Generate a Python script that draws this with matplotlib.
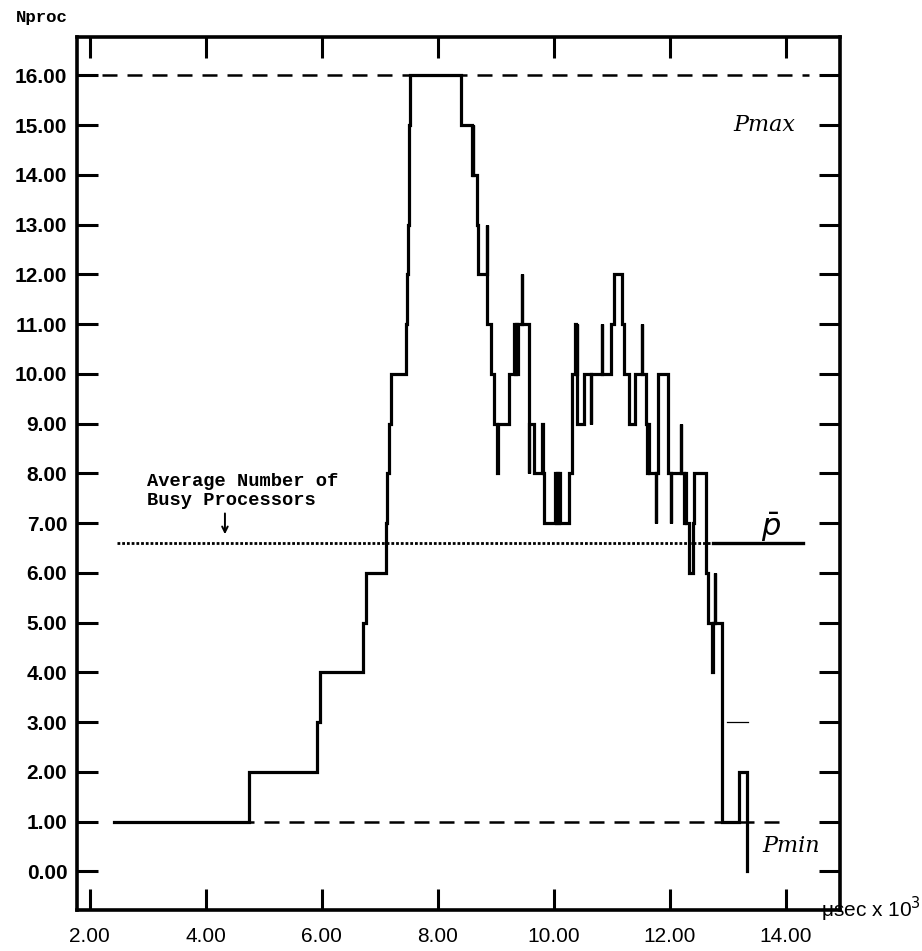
import numpy as np
import matplotlib.pyplot as plt

# processor count changes: time (usec x 10^3) where the count switches, and the new count
t_switch = [2.42, 4.74, 5.91, 5.96, 6.71, 6.76, 7.10, 7.13, 7.16, 7.20,
            7.45, 7.47, 7.49, 7.50, 7.51, 7.52, 8.40, 8.58, 8.60, 8.61,
            8.68, 8.70, 8.84, 8.845, 8.92, 8.96, 9.02, 9.03, 9.035, 9.045,
            9.23, 9.32, 9.33, 9.35, 9.36, 9.38, 9.45, 9.455, 9.57, 9.575,
            9.66, 9.80, 9.805, 9.83, 10.02, 10.03, 10.06, 10.07, 10.09, 10.10,
            10.26, 10.31, 10.37, 10.38, 10.39, 10.40, 10.52, 10.64, 10.645, 10.83,
            10.835, 10.99, 11.03, 11.17, 11.20, 11.30, 11.39, 11.51, 11.515, 11.59,
            11.61, 11.62, 11.64, 11.76, 11.765, 11.80, 11.96, 11.975, 12.02, 12.025,
            12.19, 12.195, 12.25, 12.26, 12.28, 12.32, 12.40, 12.42, 12.62, 12.65,
            12.73, 12.735, 12.78, 12.785, 12.90, 13.19, 13.33]
n_busy = [1, 2, 3, 4, 5, 6, 7, 8, 9, 10,
          11, 12, 13, 14, 15, 16, 15, 14, 15, 14,
          13, 12, 13, 11, 10, 9, 8, 9, 8, 9,
          10, 11, 10, 11, 10, 11, 12, 11, 8, 9,
          8, 9, 8, 7, 8, 7, 8, 7, 8, 7,
          8, 10, 11, 10, 11, 9, 10, 9, 10, 11,
          10, 11, 12, 11, 10, 9, 10, 11, 10, 9,
          8, 9, 8, 7, 8, 10, 9, 8, 7, 8,
          9, 8, 7, 8, 7, 6, 7, 8, 6, 5,
          4, 5, 6, 5, 1, 2, 0]

p_max = 16.0
p_min = 1.0
p_avg = 6.6

x_ticks = [2, 4, 6, 8, 10, 12, 14]
y_ticks = list(range(0, 17))

fig = plt.figure(figsize=(9.22, 9.51), dpi=100)
ax = fig.add_axes([0.0835, 0.043, 0.8275, 0.918])

# reference lines
ax.plot([1.78, 14.4], [p_max, p_max], color='black', lw=1.8, ls=(0, (6, 4)))
ax.plot([2.42, 13.9], [p_min, p_min], color='black', lw=1.8, ls=(0, (6, 4)))
ax.plot([2.47, 12.75], [p_avg, p_avg], color='black', lw=2.0, ls=(0, (1, 0.7)))
ax.plot([12.75, 14.3], [p_avg, p_avg], color='black', lw=2.4)

# busy processors step curve
ax.plot(t_switch, n_busy, drawstyle='steps-post', color='black', lw=2.3,
        solid_joinstyle='miter')
ax.plot([12.99, 13.35], [3, 3], color='black', lw=0.9)

ax.set_xlim(1.78, 14.93)
ax.set_ylim(-0.78, 16.77)

ax.set_xticks(x_ticks)
ax.set_xticklabels([f'{v:.2f}' for v in x_ticks], fontsize=15, family='Liberation Sans')
ax.set_yticks(y_ticks)
ax.set_yticklabels([f'{v:.2f}' for v in y_ticks], fontsize=15,
                   family='Liberation Sans', fontweight='bold')
ax.tick_params(axis='both', direction='in', length=15, width=2.2,
               top=True, right=True)
ax.tick_params(axis='y', pad=7)
ax.tick_params(axis='x', pad=12)
for s in ax.spines.values():
    s.set_linewidth(2.6)

ax.text(2.98, 7.36, 'Average Number of\nBusy Processors', family='Liberation Mono',
        fontweight='bold', fontsize=13.5, va='baseline', linespacing=1.2)
ax.annotate('', xy=(4.33, 6.72), xytext=(4.33, 7.25),
            arrowprops=dict(arrowstyle='->', lw=1.4, color='black'))

ax.text(13.1, 15.0, 'Pmax', family='DejaVu Serif', style='italic', fontsize=16,
        va='center')
ax.text(13.75, 6.58, r'$\bar{p}$', fontsize=22, ha='center', va='bottom')
ax.text(13.6, 0.5, 'Pmin', family='DejaVu Serif', style='italic', fontsize=16,
        va='center')

fig.text(0.017, 0.982, 'Nproc', family='Liberation Mono', fontweight='bold',
         fontsize=12.5, va='center')
fig.text(0.890, 0.036, '\u03bcsec x 10$^3$', family='Liberation Sans', fontsize=15,
         va='baseline')

fig.savefig('out.png', dpi=100)
